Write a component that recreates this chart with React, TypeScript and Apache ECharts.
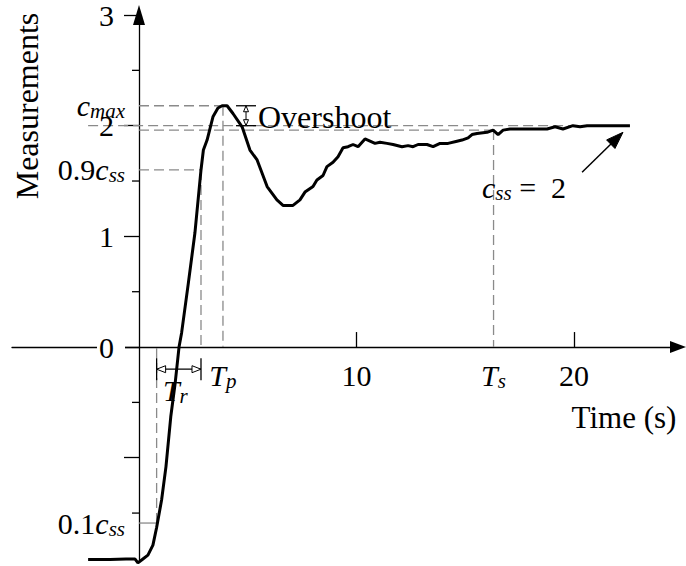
import React, { useEffect, useRef } from 'react';
import * as echarts from 'echarts';

// ---- data ----
const TIME = [-2.34, -1.33, -0.6, -0.18, -0.05, 0.18, 0.41, 0.64, 0.81, 1.04, 1.24, 1.46, 1.66, 1.84, 1.96, 2.27, 2.57, 2.85, 2.96, 3.13, 3.4, 3.63, 3.82, 4.05, 4.32, 4.74, 5.1, 5.43, 5.89, 6.34, 6.62, 7.08, 7.4, 7.63, 8.0, 8.18, 8.46, 8.64, 8.92, 9.15, 9.38, 9.61, 9.84, 10.07, 10.39, 10.62, 10.85, 11.08, 11.4, 11.68, 12.09, 12.37, 12.6, 12.83, 13.24, 13.52, 13.84, 14.21, 14.62, 14.85, 15.13, 15.31, 15.54, 16.0, 16.28, 16.51, 16.74, 17.06, 18.11, 18.76, 19.13, 19.49, 19.95, 20.28, 20.6, 22.57];
const MEASUREMENT = [-1.92, -1.92, -1.915, -1.915, -1.95, -1.915, -1.88, -1.79, -1.63, -1.38, -1.08, -0.63, -0.33, 0.0, 0.13, 0.58, 1.03, 1.6, 1.78, 1.87, 2.08, 2.16, 2.18, 2.18, 2.11, 1.99, 1.78, 1.69, 1.45, 1.33, 1.28, 1.28, 1.33, 1.4, 1.45, 1.51, 1.55, 1.63, 1.67, 1.72, 1.8, 1.81, 1.83, 1.81, 1.88, 1.86, 1.84, 1.85, 1.84, 1.83, 1.81, 1.82, 1.81, 1.83, 1.83, 1.81, 1.84, 1.84, 1.86, 1.87, 1.89, 1.92, 1.93, 1.94, 1.96, 1.92, 1.96, 1.97, 1.97, 1.97, 1.99, 1.97, 2.0, 1.99, 2.0, 2.0];

// characteristic values
const C_SS = 2;
const C_MAX = 2.18;
const BAND = 1.96;
const LEVEL_90 = 1.6;
const LEVEL_10 = -1.59;
const T_R_START = 0.81;
const T_R_END = 2.85;
const T_P = 3.86;
const T_S = 16.3;

// axes
const X_MIN = -5.839;
const X_MAX = 24.78;
const Y_MIN = -1.942;
const Y_MAX = 3;
const X_TICKS = [10, 20];
const X_LABELS = [T_P, 10, T_S, 20];
const Y_MAJOR_TICKS = [-1, 0, 1, 2, 3];
const Y_MINOR_TICKS = [-1.5, -0.5, 0.5, 1.5, 2.5];
const Y_LABELS = [LEVEL_10, 0, 1, LEVEL_90, 2, C_MAX, 3];

// annotation anchors (data units)
const TR_ARROW_LEVEL = -0.2;
const OS_ARROW_T = 4.92;
const CSS_ARROW_FROM = [20.37, 1.58];
const CSS_ARROW_TO = [22.25, 1.94];
const OVERSHOOT_LABEL_AT = [5.47, 2.08];
const TR_LABEL_AT = [1.1, -0.39];
const CSS_LABEL_AT = [15.77, 1.445];

const FONT = "'Liberation Serif', 'Times New Roman', serif";
const BLACK = '#000';
const GRAY = '#8a8a8a';

const near = (a: number, b: number) => Math.abs(a - b) < 1e-6;

const RICH = {
  n: { fontFamily: FONT, fontSize: 30, fill: BLACK, lineHeight: 32 },
  i: { fontFamily: FONT, fontSize: 30, fontStyle: 'italic', fill: BLACK, lineHeight: 32 },
  s: { fontFamily: FONT, fontSize: 21, fontStyle: 'italic', fill: BLACK, lineHeight: 18, verticalAlign: 'bottom' },
  d: { fontFamily: FONT, fontSize: 30, fill: BLACK, lineHeight: 32, padding: [0, 11, 0, 0] },
  z: { fontFamily: FONT, fontSize: 30, fill: BLACK, lineHeight: 32, padding: [0, 11, 0, 2], backgroundColor: '#fff' },
};

const yLabelText = (v: number) => {
  if (near(v, LEVEL_10)) return '{n|0.1}{i|c}{s|ss}';
  if (near(v, LEVEL_90)) return '{n|0.9}{i|c}{s|ss}';
  if (near(v, C_MAX)) return '{i|c}{s|max}';
  if (near(v, 0)) return '{z|0}';
  return '{d|' + v + '}';
};
const xLabelText = (v: number) => {
  if (near(v, T_P)) return '{i|T}{s|p}';
  if (near(v, T_S)) return '{i|T}{s|s}';
  return '{n|' + v + '}';
};

export default function App() {
  const ref = useRef<HTMLDivElement>(null);

  useEffect(() => {
    if (!ref.current) return;
    const chart = echarts.init(ref.current, null, { renderer: 'svg' });

    const t0 = TIME[0];
    const t1 = TIME[TIME.length - 1];
    // [x1, y1, x2, y2, dashed]
    const guides = [
      [t0, C_SS, t1, C_SS, 1],
      [0, BAND, T_S, BAND, 1],
      [0, C_MAX, T_P, C_MAX, 1],
      [0, LEVEL_90, T_R_END, LEVEL_90, 1],
      [0, LEVEL_10, T_R_START, LEVEL_10, 0],
      [T_R_START, LEVEL_10, T_R_START, 0, 1],
      [T_R_END, LEVEL_90, T_R_END, 0, 1],
      [T_P, C_MAX, T_P, 0, 1],
      [T_S, BAND, T_S, 0, 1],
    ];

    const lineStyle = { color: BLACK, width: 1.3 };

    const head = (tip: number[], dx: number, dy: number, len: number, hw: number, fill: string) => {
      const bx = tip[0] - dx * len;
      const by = tip[1] - dy * len;
      const px = -dy;
      const py = dx;
      return {
        type: 'polygon',
        shape: { points: [[tip[0], tip[1]], [bx + px * hw, by + py * hw], [bx - px * hw, by - py * hw]] },
        style: { fill, stroke: BLACK, lineWidth: 1 },
      };
    };
    const seg = (a: number[], b: number[], w = 1.2) => ({
      type: 'line',
      shape: { x1: a[0], y1: a[1], x2: b[0], y2: b[1] },
      style: { stroke: BLACK, lineWidth: w },
    });

    chart.setOption({
      animation: false,
      grid: { left: 12, right: 8, top: 15, bottom: 4, containLabel: false, outerBoundsMode: 'none' },
      xAxis: {
        type: 'value',
        min: X_MIN,
        max: X_MAX,
        axisLine: { onZero: true, lineStyle, symbol: ['none', 'triangle'], symbolSize: [12, 16] },
        axisTick: { show: true, inside: true, length: 15, customValues: X_TICKS, lineStyle },
        axisLabel: { show: false },
        splitLine: { show: false },
      },
      yAxis: {
        type: 'value',
        position: 'left',
        min: Y_MIN,
        max: Y_MAX,
        axisLine: { onZero: true, lineStyle, symbol: ['none', 'triangle'], symbolSize: [12, 20] },
        axisTick: { show: true, length: 15, customValues: Y_MAJOR_TICKS, lineStyle },
        axisLabel: { show: false },
        splitLine: { show: false },
      },
      series: [
        {
          type: 'custom',
          name: 'guides',
          silent: true,
          z: 1,
          data: guides,
          encode: { x: [0, 2], y: [1, 3] },
          renderItem: (params: any, api: any) => {
            const a = api.coord([api.value(0), api.value(1)]);
            const b = api.coord([api.value(2), api.value(3)]);
            const dashed = api.value(4) === 1;
            return {
              type: 'line',
              shape: { x1: a[0], y1: a[1], x2: b[0], y2: b[1] },
              style: { stroke: GRAY, lineWidth: 1.3, lineDash: dashed ? [10, 5] : null },
            };
          },
        },
        {
          type: 'line',
          name: 'Measurements',
          z: 3,
          data: TIME.map((t, i) => [t, MEASUREMENT[i]]),
          showSymbol: false,
          symbol: 'none',
          lineStyle: { color: BLACK, width: 3 },
          silent: true,
          clip: false,
        },
        {
          type: 'custom',
          name: 'yMinorTicks',
          silent: true,
          z: 2,
          data: Y_MINOR_TICKS.map((v) => [0, v]),
          renderItem: (params: any, api: any) => {
            const p = api.coord([0, api.value(1)]);
            return seg([p[0] - 7, p[1]], [p[0], p[1]], 1.3);
          },
        },
        {
          type: 'custom',
          name: 'yLabels',
          silent: true,
          z: 4,
          data: Y_LABELS.map((v) => [0, v]),
          renderItem: (params: any, api: any) => {
            const p = api.coord([0, api.value(1)]);
            return {
              type: 'text',
              style: { text: yLabelText(api.value(1)), rich: RICH, x: p[0] - 14, y: p[1], align: 'right', verticalAlign: 'middle' },
            };
          },
        },
        {
          type: 'custom',
          name: 'xLabels',
          silent: true,
          z: 4,
          data: X_LABELS.map((t) => [t, 0]),
          renderItem: (params: any, api: any) => {
            const p = api.coord([api.value(0), 0]);
            return {
              type: 'text',
              style: { text: xLabelText(api.value(0)), rich: RICH, x: p[0], y: p[1] + 12, align: 'center', verticalAlign: 'top' },
            };
          },
        },
        {
          type: 'custom',
          name: 'annotations',
          silent: true,
          z: 5,
          data: [[0, 0]],
          renderItem: (params: any, api: any) => {
            const children: any[] = [];
            // rise time arrow |<|-|>|
            const l = api.coord([T_R_START, TR_ARROW_LEVEL]);
            const r = api.coord([T_R_END, TR_ARROW_LEVEL]);
            children.push(seg(l, r, 1.2));
            children.push(seg([l[0], l[1] - 11], [l[0], l[1] + 11], 1.3));
            children.push(seg([r[0], r[1] - 11], [r[0], r[1] + 11], 1.3));
            children.push(head(l, -1, 0, 9, 3.5, '#fff'));
            children.push(head(r, 1, 0, 9, 3.5, '#fff'));
            // overshoot arrow
            const top = api.coord([OS_ARROW_T, C_MAX]);
            const bot = api.coord([OS_ARROW_T, C_SS]);
            children.push(seg(top, bot, 1));
            children.push(seg([top[0] - 10, top[1]], [top[0] + 10, top[1]], 1.3));
            children.push(seg([bot[0] - 10, bot[1]], [bot[0] + 10, bot[1]], 1.3));
            children.push(head(top, 0, -1, 6, 2.5, '#fff'));
            children.push(head(bot, 0, 1, 6, 2.5, '#fff'));
            // c_ss arrow
            const a = api.coord(CSS_ARROW_FROM);
            const b = api.coord(CSS_ARROW_TO);
            const len = Math.hypot(b[0] - a[0], b[1] - a[1]);
            const ux = (b[0] - a[0]) / len;
            const uy = (b[1] - a[1]) / len;
            children.push(seg(a, [b[0] - ux * 10, b[1] - uy * 10], 1.5));
            children.push(head(b, ux, uy, 17, 6, BLACK));
            // texts
            const o = api.coord(OVERSHOOT_LABEL_AT);
            children.push({
              type: 'text',
              style: { text: 'Overshoot', x: o[0], y: o[1], fill: BLACK, fontSize: 32, fontFamily: FONT, align: 'left', verticalAlign: 'middle' },
            });
            const tr = api.coord(TR_LABEL_AT);
            children.push({
              type: 'text',
              style: { text: '{i|T}{s|r}', rich: RICH, x: tr[0], y: tr[1], align: 'left', verticalAlign: 'middle' },
            });
            const cs = api.coord(CSS_LABEL_AT);
            children.push({
              type: 'text',
              style: { text: '{i|c}{s|ss}{n| =  2}', rich: RICH, x: cs[0], y: cs[1], align: 'left', verticalAlign: 'middle' },
            });
            return { type: 'group', children };
          },
        },
      ],
      graphic: [
        {
          type: 'text',
          x: 27,
          y: 106,
          rotation: Math.PI / 2,
          style: { text: 'Measurements', fill: BLACK, fontSize: 32, fontFamily: FONT, align: 'center', verticalAlign: 'middle' },
        },
        {
          type: 'text',
          x: 624,
          y: 417,
          style: { text: 'Time (s)', fill: BLACK, fontSize: 31, fontFamily: FONT, align: 'center', verticalAlign: 'middle' },
        },
      ],
    });

    return () => chart.dispose();
  }, []);

  return (
    <div
      ref={ref}
      style={{ position: 'fixed', left: 0, top: 0, width: 686, height: 566, background: '#fff' }}
    />
  );
}
